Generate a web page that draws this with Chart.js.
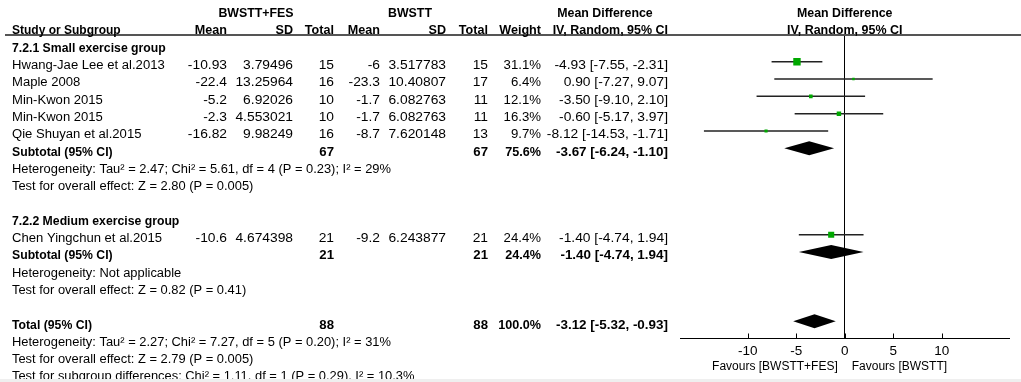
<!DOCTYPE html>
<html>
<head>
<meta charset="utf-8">
<script src="https://cdn.jsdelivr.net/npm/chart.js@4.4.0/dist/chart.umd.min.js"></script>
<style>
html, body { margin: 0; padding: 0; background: #efefef; }
#chart { display: block; background: #fff; }
</style>
</head>
<body>
<canvas id="chart" width="1021" height="379"></canvas>
<script>
// Datos de los estudios
const studies = ["Hwang-Jae Lee et al.2013", "Maple 2008", "Min-Kwon 2015", "Min-Kwon 2015", "Qie Shuyan et al.2015", "Chen Yingchun et al.2015"];
const studyRows = [1, 2, 3, 4, 5, 11];
const feMean = [-10.93, -22.4, -5.2, -2.3, -16.82, -10.6];
const feSd = [3.79496, 13.25964, 6.92026, 4.553021, 9.98249, 4.674398];
const feTotal = [15, 16, 10, 10, 16, 21];
const ctMean = [-6, -23.3, -1.7, -1.7, -8.7, -9.2];
const ctSd = [3.517783, 10.40807, 6.082763, 6.082763, 7.620148, 6.243877];
const ctTotal = [15, 17, 11, 11, 13, 21];
const weights = [31.1, 6.4, 12.1, 16.3, 9.7, 24.4];
const md = [-4.93, 0.90, -3.50, -0.60, -8.12, -1.40];
const ciLow = [-7.55, -7.27, -9.10, -5.17, -14.53, -4.74];
const ciHigh = [-2.31, 9.07, 2.10, 3.97, -1.71, 1.94];

// Subtotales y total
const sumLabels = ["Subtotal (95% CI)", "Subtotal (95% CI)", "Total (95% CI)"];
const sumRows = [6, 12, 16];
const sumFeTotal = [67, 21, 88];
const sumCtTotal = [67, 21, 88];
const sumWeight = [75.6, 24.4, 100.0];
const sumMd = [-3.67, -1.40, -3.12];
const sumLow = [-6.24, -4.74, -5.32];
const sumHigh = [-1.10, 1.94, -0.93];

// Encabezados de grupo y notas
const groupLabels = ["7.2.1 Small exercise group", "7.2.2 Medium exercise group"];
const groupRows = [0, 10];
const noteRows = [7, 8, 13, 14, 17, 18, 19];
const noteTexts = [
    "Heterogeneity: Tau\u00b2 = 2.47; Chi\u00b2 = 5.61, df = 4 (P = 0.23); I\u00b2 = 29%",
    "Test for overall effect: Z = 2.80 (P = 0.005)",
    "Heterogeneity: Not applicable",
    "Test for overall effect: Z = 0.82 (P = 0.41)",
    "Heterogeneity: Tau\u00b2 = 2.27; Chi\u00b2 = 7.27, df = 5 (P = 0.20); I\u00b2 = 31%",
    "Test for overall effect: Z = 2.79 (P = 0.005)",
    "Test for subgroup differences: Chi\u00b2 = 1.11, df = 1 (P = 0.29), I\u00b2 = 10.3%"
];

// Eje x
const xTicks = [-10, -5, 0, 5, 10];
const favoursLeft = "Favours [BWSTT+FES]";
const favoursRight = "Favours [BWSTT]";

// Posiciones de columnas de la tabla
const col = { study: 12, feMean: 227, feSd: 293, feTotal: 334, ctMean: 380, ctSd: 446, ctTotal: 488, weight: 541, ci: 668 };
const FONT = '"Liberation Sans", Arial, sans-serif';
const textShift = 4;

function txt(ctx, s, x, y, align, bold, sx) {
    ctx.save();
    ctx.font = (bold ? "bold " : "") + "12px " + FONT;
    ctx.fillStyle = "#000";
    ctx.textAlign = align;
    ctx.textBaseline = "middle";
    ctx.translate(x, y);
    ctx.scale(sx || 1, 1);
    ctx.fillText(s, 0, 0);
    ctx.restore();
}

function ciText(m, lo, hi) {
    return m.toFixed(2) + " [" + lo.toFixed(2) + ", " + hi.toFixed(2) + "]";
}

// Líneas de IC y diamantes
const forestMarks = {
    id: "forestMarks",
    beforeDatasetsDraw(chart) {
        const ctx = chart.ctx;
        const xs = chart.scales.x, ys = chart.scales.y;
        ctx.save();
        ctx.strokeStyle = "#222";
        ctx.lineWidth = 1.5;
        studyRows.forEach((r, i) => {
            const y = ys.getPixelForValue(r);
            ctx.beginPath();
            ctx.moveTo(xs.getPixelForValue(ciLow[i]), y);
            ctx.lineTo(xs.getPixelForValue(ciHigh[i]), y);
            ctx.stroke();
        });
        ctx.fillStyle = "#000";
        sumRows.forEach((r, i) => {
            const y = ys.getPixelForValue(r);
            ctx.beginPath();
            ctx.moveTo(xs.getPixelForValue(sumLow[i]), y);
            ctx.lineTo(xs.getPixelForValue(sumMd[i]), y - 7);
            ctx.lineTo(xs.getPixelForValue(sumHigh[i]), y);
            ctx.lineTo(xs.getPixelForValue(sumMd[i]), y + 7);
            ctx.closePath();
            ctx.fill();
        });
        ctx.restore();
    },
    afterDraw(chart) {
        const ctx = chart.ctx;
        const xs = chart.scales.x, ys = chart.scales.y;
        const area = chart.chartArea;
        const rowY = r => ys.getPixelForValue(r) + textShift;
        const x0 = xs.getPixelForValue(0);

        // línea de encabezado
        ctx.save();
        ctx.strokeStyle = "#555";
        ctx.lineWidth = 2;
        ctx.beginPath();
        ctx.moveTo(5, area.top - 1);
        ctx.lineTo(chart.width, area.top - 1);
        ctx.stroke();

        // marcas de los ticks hacia arriba
        ctx.strokeStyle = "#000";
        ctx.lineWidth = 1;
        xs.ticks.forEach(t => {
            const px = Math.round(xs.getPixelForValue(t.value)) + 0.5;
            ctx.beginPath();
            ctx.moveTo(px, area.bottom);
            ctx.lineTo(px, area.bottom - 5);
            ctx.stroke();
        });
        ctx.restore();

        // encabezados
        txt(ctx, "BWSTT+FES", 256, rowY(-2), "center", true, 1.03);
        txt(ctx, "BWSTT", 410, rowY(-2), "center", true, 1.03);
        txt(ctx, "Mean Difference", 605, rowY(-2), "center", true, 1.03);
        txt(ctx, "Mean Difference", x0, rowY(-2), "center", true, 1.03);
        const h = rowY(-1);
        txt(ctx, "Study or Subgroup", col.study, h, "left", true);
        txt(ctx, "Mean", col.feMean, h, "right", true, 1.05);
        txt(ctx, "SD", col.feSd, h, "right", true, 1.05);
        txt(ctx, "Total", col.feTotal, h, "right", true, 1.05);
        txt(ctx, "Mean", col.ctMean, h, "right", true, 1.05);
        txt(ctx, "SD", col.ctSd, h, "right", true, 1.05);
        txt(ctx, "Total", col.ctTotal, h, "right", true, 1.05);
        txt(ctx, "Weight", col.weight, h, "right", true, 1.05);
        txt(ctx, "IV, Random, 95% CI", col.ci, h, "right", true, 1.04);
        txt(ctx, "IV, Random, 95% CI", x0, h, "center", true, 1.04);

        groupLabels.forEach((g, i) => txt(ctx, g, col.study, rowY(groupRows[i]), "left", true, 1.02));

        studies.forEach((s, i) => {
            const y = rowY(studyRows[i]);
            txt(ctx, s, col.study, y, "left", false, 1.09);
            txt(ctx, String(feMean[i]), col.feMean, y, "right", false, 1.15);
            txt(ctx, String(feSd[i]), col.feSd, y, "right", false, 1.15);
            txt(ctx, String(feTotal[i]), col.feTotal, y, "right", false, 1.15);
            txt(ctx, String(ctMean[i]), col.ctMean, y, "right", false, 1.15);
            txt(ctx, String(ctSd[i]), col.ctSd, y, "right", false, 1.15);
            txt(ctx, String(ctTotal[i]), col.ctTotal, y, "right", false, 1.15);
            txt(ctx, weights[i].toFixed(1) + "%", col.weight, y, "right", false, 1.1);
            txt(ctx, ciText(md[i], ciLow[i], ciHigh[i]), col.ci, y, "right", false, 1.15);
        });

        sumLabels.forEach((s, i) => {
            const y = rowY(sumRows[i]);
            txt(ctx, s, col.study, y, "left", true, 1.02);
            txt(ctx, String(sumFeTotal[i]), col.feTotal, y, "right", true, 1.1);
            txt(ctx, String(sumCtTotal[i]), col.ctTotal, y, "right", true, 1.1);
            txt(ctx, sumWeight[i].toFixed(1) + "%", col.weight, y, "right", true, 1.05);
            txt(ctx, ciText(sumMd[i], sumLow[i], sumHigh[i]), col.ci, y, "right", true, 1.12);
        });

        noteTexts.forEach((s, i) => txt(ctx, s, col.study, rowY(noteRows[i]), "left", false, 1.075));

        // etiquetas "Favours"
        const fy = area.bottom + 28;
        txt(ctx, favoursLeft, x0 - 7, fy, "right", false, 1.0);
        txt(ctx, favoursRight, x0 + 7, fy, "left", false, 1.0);
    }
};

const ctx = document.getElementById("chart").getContext("2d");
const chart = new Chart(ctx, {
    type: "scatter",
    data: {
        datasets: [{
            data: studyRows.map((r, i) => ({ x: md[i], y: r })),
            pointStyle: "rect",
            pointRadius: weights.map(w => (1.2 + 0.2 * w) / Math.SQRT2),
            backgroundColor: "#00a800",
            borderWidth: 0
        }]
    },
    options: {
        responsive: false,
        animation: false,
        devicePixelRatio: 1,
        events: [],
        layout: { padding: { left: 680, right: 11.5, top: 36, bottom: 0 } },
        plugins: { legend: { display: false }, tooltip: { enabled: false } },
        scales: {
            x: {
                type: "linear",
                min: -17,
                max: 17,
                afterBuildTicks: s => { s.ticks = xTicks.map(v => ({ value: v })); },
                afterFit: s => { s.height = 40.5; },
                grid: {
                    drawTicks: false,
                    lineWidth: 1,
                    color: c => (c.tick && c.tick.value === 0) ? "#000" : "rgba(0,0,0,0)"
                },
                border: { display: true, color: "#000", width: 1 },
                ticks: {
                    color: "#000",
                    font: { family: FONT, size: 13.5 },
                    padding: 5,
                    maxRotation: 0,
                    autoSkip: false
                }
            },
            y: {
                type: "linear",
                reverse: true,
                min: -0.49,
                max: 17,
                display: false
            }
        }
    },
    plugins: [forestMarks]
});
</script>
</body>
</html>
